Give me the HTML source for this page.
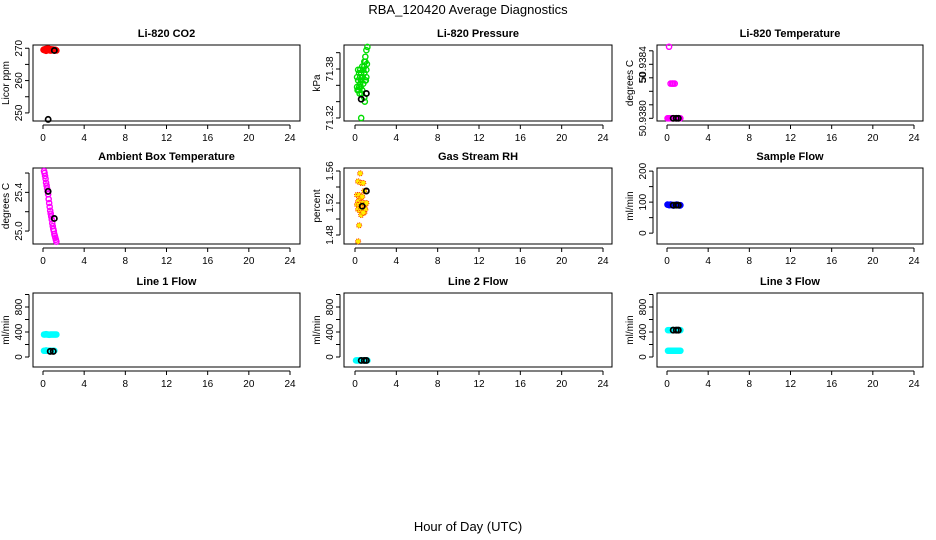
<!DOCTYPE html>
<html><head><meta charset="utf-8">
<style>
html,body{margin:0;padding:0;background:#fff;}
svg{display:block;font-family:"Liberation Sans",sans-serif;}
</style></head>
<body>
<svg id="chart" width="936" height="540" viewBox="0 0 936 540" xmlns="http://www.w3.org/2000/svg">
<text x="468" y="14" text-anchor="middle" font-size="13">RBA_120420  Average Diagnostics</text>
<text x="468" y="531" text-anchor="middle" font-size="13">Hour of Day (UTC)</text>
</svg>
<script>
const xTicks=[0,4,8,12,16,20,24];
const titles=["Li-820 CO2","Li-820 Pressure","Li-820 Temperature","Ambient Box Temperature","Gas Stream RH","Sample Flow","Line 1 Flow","Line 2 Flow","Line 3 Flow"];
const yLabels=["Licor ppm","kPa","degrees C","degrees C","percent","ml/min","ml/min","ml/min","ml/min"];
const yDomains=[[247.5,271],[71.3163,71.4094],[50.93798,50.938543],[24.866,25.652],[1.46875,1.56375],[-35,210],[-160,1024],[-160,1024],[-160,1024]];
const yTickVals=[[250,255,260,265,270],[71.32,71.34,71.36,71.38,71.40],[50.9380,50.9381,50.9382,50.9383,50.9384,50.9385],[25.0,25.2,25.4,25.6],[1.48,1.50,1.52,1.54,1.56],[0,50,100,150,200],[0,200,400,600,800,1000],[0,200,400,600,800,1000],[0,200,400,600,800,1000]];
const yTickText=[["250","","260","","270"],["71.32","","","71.38",""],["50.9380","","","50","50.9384",""],["25.0","","25.4",""],["1.48","","1.52","","1.56"],["0","","100","","200"],["0","","400","","800",""],["0","","400","","800",""],["0","","400","","800",""]];
const co2T=[0.05,0.1,0.15,0.2,0.25,0.3,0.35,0.4,0.45,0.5,0.55,0.6,0.65,0.7,0.75,0.8,0.85,0.9,0.95,1.0,1.05,1.1,1.15,1.2,1.25,1.3,0.3,0.5,0.7,0.9,1.1];
const co2V=[269.5,269.6,269.4,269.7,269.5,269.8,269.4,269.6,269.5,269.9,269.5,269.4,269.6,269.7,269.5,269.3,269.6,269.5,269.4,269.6,269.5,269.3,269.4,269.5,269.4,269.3,269.2,269.8,269.3,269.6,269.4];
const co2MT=[1.1,0.5];const co2MV=[269.3,248];
const prT=[1.2,1.1,1.0,0.9,1.0,1.15,0.7,0.9,1.1,0.3,0.5,0.8,0.4,0.6,0.9,1.1,0.2,0.5,0.75,0.3,0.6,0.2,0.4,0.55,0.8,0.35,0.7,1.0,0.45,0.65,0.9,0.25,0.95,0.5,1.05,0.6];
const prV=[71.407,71.403,71.395,71.389,71.389,71.386,71.383,71.383,71.379,71.379,71.379,71.379,71.375,71.375,71.375,71.37,71.37,71.37,71.37,71.366,71.366,71.358,71.358,71.358,71.362,71.354,71.354,71.366,71.35,71.35,71.345,71.354,71.34,71.362,71.366,71.32];
const prMT=[0.6,1.1];const prMV=[71.343,71.35];
const ltT=[0.05,0.1,0.2,0.3,0.4,0.5,0.6,0.7,0.8,0.9,1.0,1.1,1.2,1.3,0.35,0.5,0.6,0.75,0.2];
const ltV=[50.9380,50.9380,50.9380,50.9380,50.9380,50.9380,50.9380,50.9380,50.9380,50.9380,50.9380,50.9380,50.9380,50.9380,50.938257,50.938257,50.938257,50.938257,50.93853];
const ltMT=[0.6,0.9,1.1];const ltMV=[50.9380,50.9380,50.9380];
const abT=[0.1,0.15,0.2,0.25,0.3,0.35,0.4,0.45,0.5,0.55,0.6,0.65,0.7,0.75,0.8,0.85,0.9,0.95,1.0,1.05,1.1,1.15,1.2,1.25,1.3];
const abV=[25.62,25.6,25.57,25.54,25.5,25.47,25.44,25.41,25.38,25.33,25.29,25.25,25.21,25.18,25.15,25.12,25.08,25.05,25.02,25.0,24.97,24.95,24.93,24.91,24.89];
const abMT=[0.5,1.1];const abMV=[25.41,25.13];
const rhT=[0.5,0.3,0.6,0.8,0.2,0.4,0.5,0.7,0.9,0.3,0.5,0.2,0.4,0.6,0.8,1.0,1.1,0.3,0.5,0.7,0.9,1.0,0.6,0.8,0.4,0.3];
const rhV=[1.557,1.547,1.545,1.545,1.53,1.53,1.525,1.528,1.535,1.522,1.515,1.518,1.518,1.52,1.52,1.518,1.52,1.512,1.51,1.51,1.508,1.512,1.505,1.508,1.492,1.472];
const rhMT=[1.1,0.7];const rhMV=[1.535,1.516];
const sfT=[0.05,0.15,0.25,0.35,0.45,0.55,0.65,0.75,0.85,0.95,1.05,1.15,1.25,1.3];
const sfV=[92,91,90,92,91,90,89,91,90,92,91,90,89,90];
const sfMT=[0.6,0.9,1.1];const sfMV=[90,90,90];
const l1T=[0.1,0.2,0.3,0.4,0.5,0.6,0.7,0.8,0.9,1.0,1.1,1.2,1.3,0.1,0.2,0.3,0.4,0.5,0.6,0.7,0.8,0.9,1.0,1.1];
const l1V=[360,360,365,360,360,355,360,360,360,360,360,360,360,100,100,105,100,100,100,100,100,100,100,100];
const l1MT=[0.7,1.0];const l1MV=[90,90];
const l2T=[0.1,0.2,0.3,0.4,0.5,0.6,0.7,0.8,0.9,1.0,1.1,1.2];
const l2V=[-55,-55,-55,-55,-55,-55,-55,-55,-55,-55,-55,-55];
const l2MT=[0.6,0.9,1.1];const l2MV=[-55,-55,-55];
const l3T=[0.1,0.2,0.3,0.4,0.5,0.6,0.7,0.8,0.9,1.0,1.1,1.2,1.3,0.1,0.2,0.3,0.4,0.5,0.6,0.7,0.8,0.9,1.0,1.1,1.2,1.3];
const l3V=[430,430,430,430,430,430,430,430,430,430,430,430,430,100,100,100,100,100,100,100,100,100,100,100,100,100];
const l3MT=[0.6,0.9,1.1];const l3MV=[430,430,430];
const seriesT=[co2T,prT,ltT,abT,rhT,sfT,l1T,l2T,l3T];
const seriesV=[co2V,prV,ltV,abV,rhV,sfV,l1V,l2V,l3V];
const meanT=[co2MT,prMT,ltMT,abMT,rhMT,sfMT,l1MT,l2MT,l3MT];
const meanV=[co2MV,prMV,ltMV,abMV,rhMV,sfMV,l1MV,l2MV,l3MV];
const colors=["#ff0000","#00dd00","#ff00ff","#ff00ff","#ff3300","#0000ff","#00ffff","#00ffff","#00ffff"];
const fills=["none","none","none","none","#ffee00","none","#00ffff","#00ffff","#00ffff"];

const NS="http://www.w3.org/2000/svg";
const svg=document.getElementById("chart");
const colL=[33,344,657],colR=[300,612,923],colX0=[43,355,667],colX24=[290,603,914];
const rowT=[45,168,293],rowB=[121,244,367];
function mk(tag,attrs,parent){const e=document.createElementNS(NS,tag);for(const k in attrs)e.setAttribute(k,attrs[k]);(parent||svg).appendChild(e);return e;}
for(let p=0;p<9;p++){
  const c=p%3,r=Math.floor(p/3);
  const L=colL[c],R=colR[c],T=rowT[r],B=rowB[r];
  const xs=t=>colX0[c]+(colX24[c]-colX0[c])*t/24;
  const [d0,d1]=yDomains[p];
  const ys=v=>B-(v-d0)/(d1-d0)*(B-T);
  const g=mk("g",{});
  
  
  const box=mk("rect",{x:L,y:T,width:R-L,height:B-T,fill:"none",stroke:"#000","stroke-width":1},g);
  
  
  const tt=mk("text",{x:(L+R)/2,y:T-8,"text-anchor":"middle","font-size":11,"font-weight":"bold"},g);
  tt.textContent=titles[p];
  
  
  const xa=mk("g",{},g);
  
  
  mk("line",{x1:xs(0),x2:xs(24),y1:B+4,y2:B+4,stroke:"#000"},xa);
  xTicks.forEach(v=>{
    mk("line",{x1:xs(v),x2:xs(v),y1:B+4,y2:B+8,stroke:"#000"},xa);
    const t=mk("text",{x:xs(v),y:B+20,"text-anchor":"middle","font-size":10},xa);t.textContent=v;
    
    
  });
  const ya=mk("g",{},g);
  
  
  const tv=yTickVals[p];
  mk("line",{x1:L-4,x2:L-4,y1:ys(tv[0]),y2:ys(tv[tv.length-1]),stroke:"#000"},ya);
  tv.forEach((v,i)=>{
    const y=ys(v);
    mk("line",{x1:L-8,x2:L-4,y1:y,y2:y,stroke:"#000"},ya);
    const s=yTickText[p][i];
    if(s){const t=mk("text",{x:0,y:0,"text-anchor":"middle","font-size":10,transform:`translate(${L-11},${y}) rotate(-90)`},ya);t.textContent=s;
      
      }
  });
  const yl=mk("text",{x:0,y:0,"text-anchor":"middle","font-size":10,transform:`translate(${L-24},${(T+B)/2}) rotate(-90)`},g);
  yl.textContent=yLabels[p];
  
  
  seriesT[p].forEach((t,i)=>{
    const cc=mk("circle",{cx:xs(t),cy:ys(seriesV[p][i]),r:2.6,fill:fills[p],stroke:colors[p],"stroke-width":p===4?1:1.4},g);
    if(p===4) cc.setAttribute('stroke-dasharray','1 1');
    
    
  });
  meanT[p].forEach((t,i)=>{
    const cc=mk("circle",{cx:xs(t),cy:ys(meanV[p][i]),r:2.6,fill:"none",stroke:"#000","stroke-width":1.7},g);
    
    
  });
}
</script>
</body></html>
